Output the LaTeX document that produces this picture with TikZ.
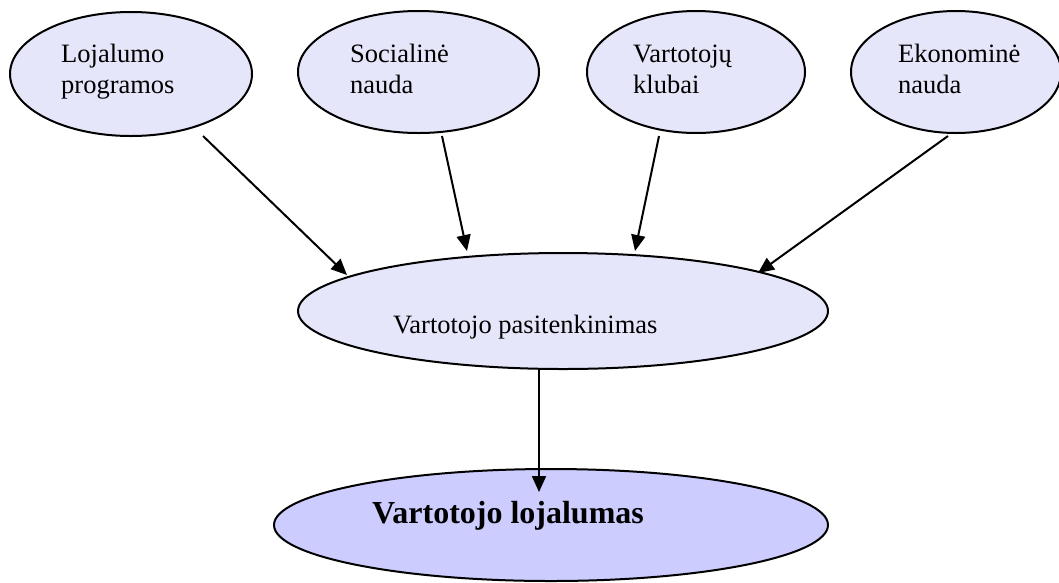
\documentclass[tikz,border=0pt]{standalone}
\usepackage{fontspec}
\setmainfont{Liberation Serif}
\usetikzlibrary{shapes.geometric,arrows.meta,calc}
\definecolor{topfill}{RGB}{230,230,250}
\definecolor{lowfill}{RGB}{204,204,255}
\begin{document}
\begin{tikzpicture}[x=1pt,y=1pt,
  oval/.style={ellipse,draw=black,line width=2pt,inner sep=0pt,fill=topfill},
  lbl/.style={anchor=base west,inner sep=0pt,align=left,font=\fontsize{26.5}{31}\selectfont},
  arr/.style={line width=2pt,-{Triangle[length=16pt,width=14pt]}}]
\useasboundingbox (0,0) rectangle (1059,-582);
% factor ellipses
\node[oval,minimum width=242pt,minimum height=124pt] (e1) at (131,-74) {};
\node[oval,minimum width=241pt,minimum height=122pt] (e2) at (418.5,-72) {};
\node[oval,minimum width=218pt,minimum height=122pt] (e3) at (696,-72) {};
\node[oval,minimum width=210pt,minimum height=122pt] (e4) at (956,-72) {};
% satisfaction and loyalty
\node[oval,minimum width=530pt,minimum height=116pt] (m) at (563,-311) {};
\node[oval,fill=lowfill,minimum width=554pt,minimum height=112pt] (b) at (551,-525) {};
% labels (base anchor sits on the last line)
\node[lbl] (t1) at (61,-93) {Lojalumo\\programos};
\node[lbl] (t2) at (350,-93) {Socialinė\\nauda};
\node[lbl] (t3) at (633,-93) {Vartotojų\\klubai};
\node[lbl] (t4) at (898,-93) {Ekonominė\\nauda};
\node[lbl] (tm) at (393,-333) {Vartotojo pasitenkinimas};
\node[lbl,font=\fontsize{32}{38}\selectfont\bfseries] (tb) at (372,-523) {Vartotojo lojalumas};
% connectors
\draw[arr] ($(e1)+(72,-62)$) -- ($(m)+(-216,36)$);
\draw[arr] ($(e2)+(23.5,-64)$) -- ($(m)+(-96,60)$);
\draw[arr] ($(e3)+(-37,-64)$) -- ($(m)+(72,60)$);
\draw[arr] ($(e4)+(-8,-64)$) -- ($(m)+(195,38)$);
\draw[arr] ($(m)+(-24,-59)$) -- ($(b)+(-12,33)$);
\end{tikzpicture}
\end{document}
